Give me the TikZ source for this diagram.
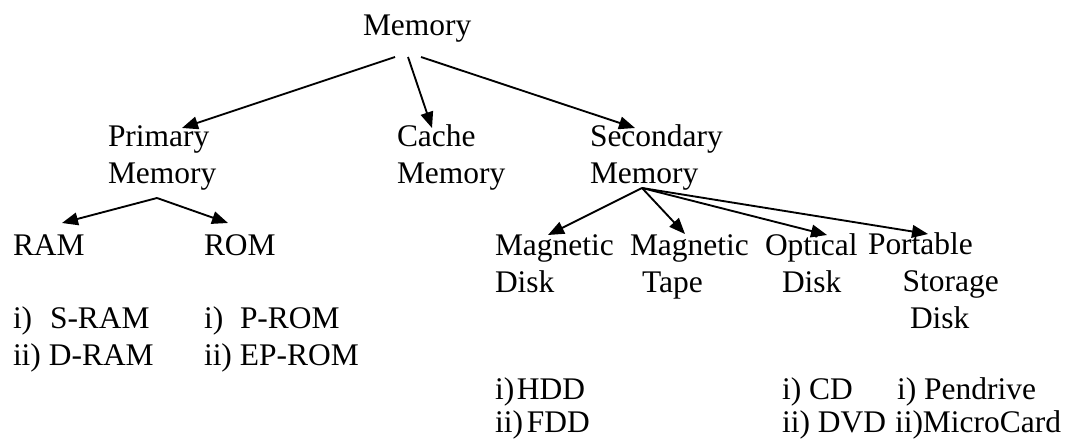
\documentclass[tikz,border=0pt]{standalone}
\usepackage{fontspec}
\setmainfont{Liberation Serif}
\usetikzlibrary{arrows.meta}
% label with a fixed-width number column
\newcommand{\numitem}[3]{\makebox[#1][l]{#2}#3}
\begin{document}
\begin{tikzpicture}[x=0.75pt,y=-0.75pt,
  % multi-line labels are anchored at the baseline of their last line
  lbl/.style={anchor=base west, inner sep=0pt, outer sep=0pt, align=left,
              font=\fontsize{23.6pt}{27.75pt}\selectfont},
  lst/.style={lbl, font=\fontsize{23.6pt}{24.75pt}\selectfont},
  arr/.style={line width=1.4pt, -{Triangle[length=12pt,width=9.5pt]}}]
\useasboundingbox (0,0) rectangle (1080,439);

% --- text nodes ---
\node[lbl] (mem)   at (363,36)  {Memory};
\node[lbl] (prim)  at (108,183) {Primary\\Memory};
\node[lbl] (cache) at (397,183) {Cache\\Memory};
\node[lbl] (sec)   at (590,183) {Secondary\\Memory};

\node[lbl] (ram) at (13,255)  {RAM};
\node[lbl] (rom) at (204,255) {ROM};
\node[lbl] (ramlist) at (13,365)  {\numitem{27.75pt}{i)}{S-RAM}\\ii) D-RAM};
\node[lbl] (romlist) at (204,365) {\numitem{27pt}{i)}{P-ROM}\\ii) EP-ROM};

\node[lbl] (magd) at (495,292) {Magnetic\\Disk};
\node[lbl] (magt) at (630,292) {Magnetic\\\hspace*{9pt}Tape};
\node[lbl] (optd) at (765,292) {Optical\\\hspace*{12.75pt}Disk};
\node[lbl] (port) at (868,328) {Portable\\\hspace*{26pt}Storage\\\hspace*{31.5pt}Disk};

\node[lst] (magdlist) at (495,432) {i)\kern2pt HDD\\ii)\kern3pt FDD};
\node[lst] (optdlist) at (782,432) {i) CD\\ii) DVD};
\node[lst] (portlist) at (895,432) {\hspace*{1.5pt}i) Pendrive\\ii)MicroCard};

% --- connector end points ---
\coordinate (memA) at (395,57);
\coordinate (memB) at (408,57);
\coordinate (memC) at (421,57);
\coordinate (primT) at (182,128);
\coordinate (cacheT) at (432,128);
\coordinate (secT) at (635,128);

\coordinate (primS) at (157,198);
\coordinate (ramT) at (62,223);
\coordinate (romT) at (228,223);

\coordinate (secS) at (642,188);
\coordinate (magdT) at (548,235);
\coordinate (magtT) at (685,234);
\coordinate (optdT) at (827,235);
\coordinate (portT) at (928,234);

% --- connectors ---
\draw[arr] (memA) -- (primT);
\draw[arr] (memB) -- (cacheT);
\draw[arr] (memC) -- (secT);

\draw[arr] (primS) -- (ramT);
\draw[arr] (primS) -- (romT);

\draw[arr] (secS) -- (magdT);
\draw[arr] (secS) -- (magtT);
\draw[arr] (secS) -- (optdT);
\draw[arr] (secS) -- (portT);
\end{tikzpicture}
\end{document}
